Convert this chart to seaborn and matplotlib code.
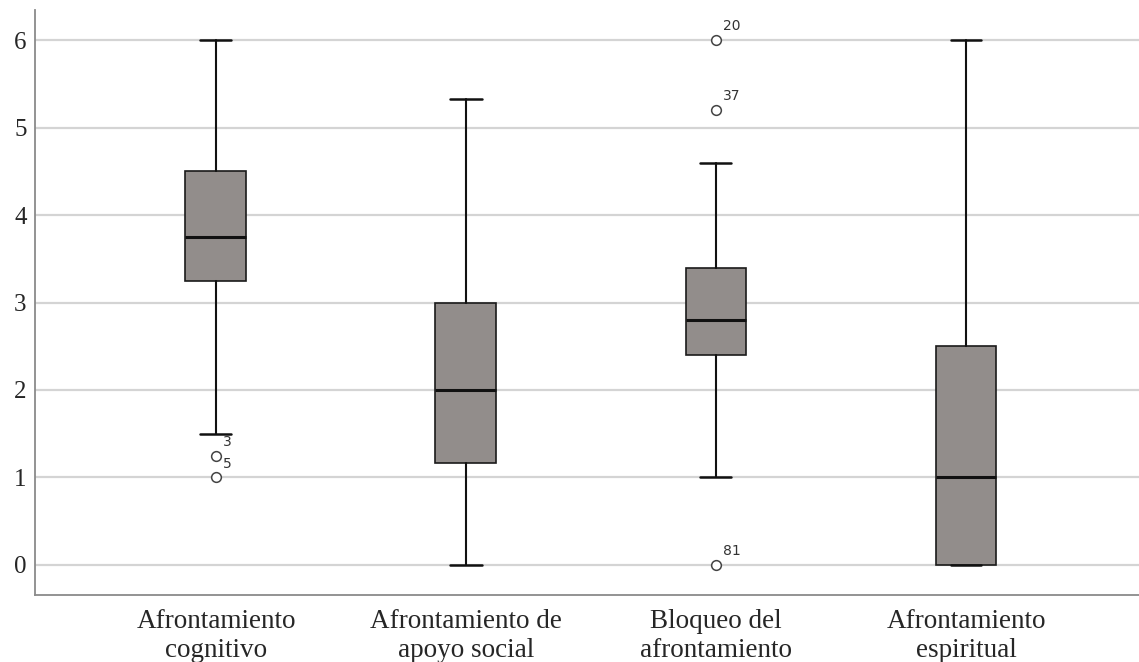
import matplotlib
matplotlib.use("Agg")
import matplotlib.pyplot as plt
import seaborn as sns

categories = ["Afrontamiento\ncognitivo", "Afrontamiento de\napoyo social",
              "Bloqueo del\nafrontamiento", "Afrontamiento\nespiritual"]
whisker_low = [1.5, 0.0, 1.0, 0.0]
q1 = [3.25, 1.17, 2.4, 0.0]
median = [3.75, 2.0, 2.8, 1.0]
q3 = [4.5, 3.0, 3.4, 2.5]
whisker_high = [6.0, 5.33, 4.6, 6.0]
outlier_values = [[1.25, 1.0], [], [6.0, 5.2, 0.0], []]
outlier_labels = [["3", "5"], [], ["20", "37", "81"], []]
y_ticks = [0, 1, 2, 3, 4, 5, 6]

sns.set_style("white")
plt.rcParams["font.family"] = ["Liberation Serif", "DejaVu Serif"]

fig = plt.figure(figsize=(11.39, 6.62), dpi=100)
ax = fig.add_axes([35 / 1139, 1 - 595 / 662, 1 - 35 / 1139, (595 - 10) / 662])

stats = []
for i in range(len(categories)):
    stats.append(dict(whislo=whisker_low[i], q1=q1[i], med=median[i], q3=q3[i],
                      whishi=whisker_high[i], fliers=outlier_values[i], label=categories[i]))

ax.bxp(stats, positions=range(len(categories)), widths=0.244, patch_artist=True,
       showfliers=True,
       boxprops=dict(facecolor="#928d8b", edgecolor="#1a1a1a", linewidth=1.2),
       medianprops=dict(color="#111111", linewidth=2.2),
       whiskerprops=dict(color="#111111", linewidth=1.5),
       capprops=dict(color="#111111", linewidth=1.8),
       capwidths=0.124,
       flierprops=dict(marker="o", markersize=7, markerfacecolor="white",
                       markeredgecolor="#444444", markeredgewidth=1.1),
       zorder=3)

for i, (vals, labs) in enumerate(zip(outlier_values, outlier_labels)):
    for v, lab in zip(vals, labs):
        ax.annotate(lab, (i, v), xytext=(5, 5), textcoords="offset points",
                    fontsize=10, family="DejaVu Sans", color="#333333",
                    ha="left", va="bottom")

ax.set_xlim(-0.724, 3.692)
ax.set_ylim(-0.343, 6.343)
ax.set_yticks(y_ticks)
ax.set_yticklabels([str(t) for t in y_ticks], fontsize=18)
ax.set_xticks(range(len(categories)))
ax.set_xticklabels(categories, fontsize=19.5, linespacing=1.2)
ax.yaxis.grid(True, color="#d4d4d4", linewidth=1.6, zorder=0)
ax.set_axisbelow(True)
ax.tick_params(axis="both", length=0, pad=6)
ax.tick_params(axis="x", pad=10)
for s in ["top", "right"]:
    ax.spines[s].set_visible(False)
for s in ["left", "bottom"]:
    ax.spines[s].set_color("#8a8a8a")
    ax.spines[s].set_linewidth(1.3)

fig.savefig("out.png", dpi=100)
